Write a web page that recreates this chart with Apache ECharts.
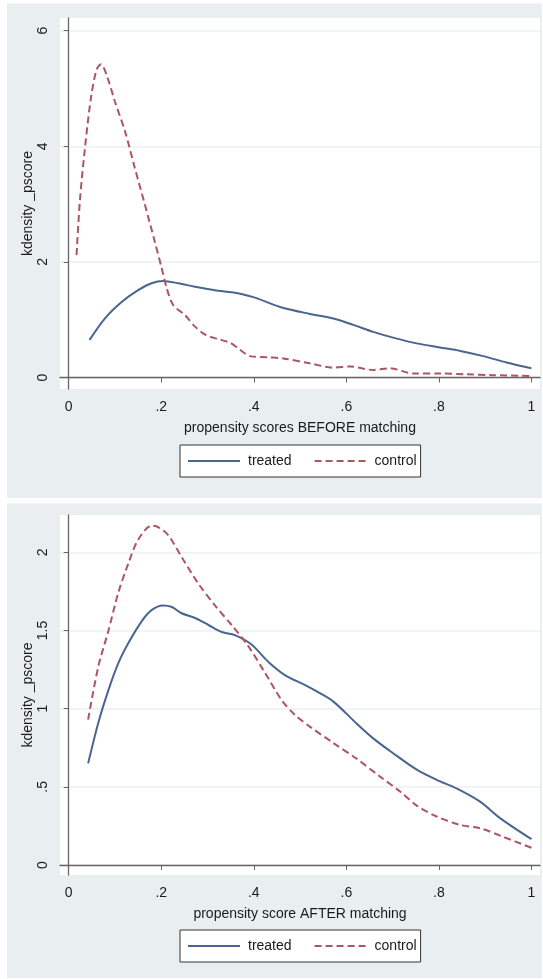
<!DOCTYPE html>
<html>
<head>
<meta charset="utf-8">
<script src="https://cdn.jsdelivr.net/npm/echarts@6/dist/echarts.min.js"></script>
<style>
  html, body { margin: 0; padding: 0; background: #fff; }
  #chart { width: 543px; height: 979px; }
</style>
</head>
<body>
<div id="chart"></div>
<script>
// kernel density of the propensity score, [score, density]
var beforeTreated = [[0.045,0.65],[0.078,1.02],[0.115,1.31],[0.15,1.51],[0.179,1.63],[0.204,1.67],[0.237,1.63],[0.273,1.57],[0.316,1.51],[0.356,1.47],[0.399,1.39],[0.457,1.22],[0.521,1.1],[0.572,1.02],[0.615,0.91],[0.658,0.79],[0.701,0.69],[0.752,0.59],[0.802,0.52],[0.846,0.46],[0.896,0.37],[0.946,0.26],[1.0,0.16]];
var beforeControl = [[0.017,2.12],[0.024,3.04],[0.035,3.96],[0.048,4.83],[0.06,5.32],[0.07,5.42],[0.082,5.23],[0.1,4.77],[0.122,4.25],[0.143,3.62],[0.165,2.98],[0.186,2.35],[0.201,1.89],[0.212,1.54],[0.226,1.25],[0.251,1.08],[0.273,0.88],[0.295,0.74],[0.32,0.67],[0.349,0.6],[0.37,0.48],[0.392,0.37],[0.43,0.35],[0.464,0.33],[0.521,0.245],[0.572,0.17],[0.608,0.19],[0.658,0.13],[0.694,0.16],[0.745,0.07],[0.802,0.07],[0.86,0.055],[0.917,0.04],[1.0,0.025]];
var afterTreated = [[0.042,0.65],[0.064,0.91],[0.086,1.12],[0.107,1.29],[0.129,1.42],[0.158,1.56],[0.179,1.63],[0.204,1.66],[0.223,1.65],[0.244,1.61],[0.273,1.58],[0.302,1.535],[0.331,1.49],[0.359,1.47],[0.395,1.41],[0.431,1.3],[0.467,1.215],[0.511,1.15],[0.536,1.11],[0.572,1.045],[0.622,0.905],[0.658,0.81],[0.701,0.715],[0.752,0.61],[0.795,0.545],[0.838,0.49],[0.889,0.405],[0.932,0.3],[1.0,0.165]];
var afterControl = [[0.042,0.93],[0.064,1.27],[0.086,1.5],[0.107,1.74],[0.129,1.93],[0.15,2.08],[0.179,2.17],[0.194,2.16],[0.215,2.11],[0.244,1.97],[0.28,1.8],[0.316,1.66],[0.352,1.535],[0.388,1.4],[0.424,1.23],[0.46,1.055],[0.489,0.96],[0.521,0.885],[0.572,0.78],[0.622,0.68],[0.673,0.565],[0.716,0.47],[0.752,0.38],[0.795,0.31],[0.846,0.256],[0.889,0.235],[0.939,0.18],[1.0,0.11]];

var xTicks = [0, 0.2, 0.4, 0.6, 0.8, 1];
var yTicksBefore = [0, 2, 4, 6];
var yTicksAfter = [0, 0.5, 1, 1.5, 2];
var xTitles = ['propensity scores BEFORE matching', 'propensity score AFTER matching'];
var yTitle = 'kdensity _pscore';
var groups = ['treated', 'control'];

var navy = '#4a6590';
var maroon = '#ad5560';
var font = 'Liberation Sans, Arial, sans-serif';

// stata style labels: .2 instead of 0.2
var stataNum = function (v) {
  var s = String(Math.round(v * 10) / 10);
  return s.indexOf('0.') === 0 ? s.slice(1) : s;
};

var myChart = echarts.init(document.getElementById('chart'), null, { renderer: 'canvas' });

var xAxisFor = function (idx) {
  return {
    type: 'value', gridIndex: idx,
    min: -0.0188, max: 1.0184,
    name: xTitles[idx], nameLocation: 'middle', nameGap: 32,
    nameTextStyle: { fontFamily: font, fontSize: 14, color: '#1a1a1a' },
    axisLine: { lineStyle: { color: '#666', width: 1.3 } },
    axisTick: { show: true, length: 5, customValues: xTicks, lineStyle: { color: '#666' } },
    axisLabel: { customValues: xTicks, formatter: stataNum, margin: 11, fontFamily: font, fontSize: 14, color: '#1a1a1a' },
    splitLine: { show: false }
  };
};

var yAxisFor = function (idx, min, max, ticks) {
  return {
    type: 'value', gridIndex: idx,
    min: min, max: max,
    name: yTitle, nameLocation: 'middle', nameGap: 25, nameMoveOverlap: false,
    nameTextStyle: { fontFamily: font, fontSize: 14, color: '#1a1a1a' },
    axisLine: { show: true, lineStyle: { color: '#666', width: 1.3 } },
    axisTick: { show: true, length: 5, customValues: ticks, lineStyle: { color: '#666' } },
    axisLabel: { customValues: ticks, formatter: stataNum, rotate: 90, margin: 10, fontFamily: font, fontSize: 14, color: '#1a1a1a' },
    splitLine: { show: true, lineStyle: { color: '#edf1f2', width: 1.5 } }
  };
};

var lineSeries = function (name, idx, data, color, dashed) {
  return {
    name: name, type: 'line', xAxisIndex: idx, yAxisIndex: idx,
    data: data, smooth: 0.3, symbol: 'none',
    lineStyle: { color: color, width: 2, type: dashed ? [7, 4] : 'solid' },
    itemStyle: { color: color }
  };
};

var legendFor = function (top) {
  return {
    data: groups, left: 180, top: top,
    orient: 'horizontal',
    itemWidth: 52, itemHeight: 14, itemGap: 22,
    padding: [9, 4, 9, 7],
    borderColor: '#333', borderWidth: 1, backgroundColor: '#fff',
    itemStyle: { color: 'rgba(0,0,0,0)', borderWidth: 0, opacity: 0 },
    textStyle: { fontFamily: font, fontSize: 14, color: '#1a1a1a', padding: [0, 0, 0, 3] }
  };
};

var option = {
  animation: false,
  backgroundColor: '#fff',
  graphic: [
    { type: 'rect', z: -10, shape: { x: 7, y: 3.5, width: 535, height: 494.5 }, style: { fill: '#e9eff1' } },
    { type: 'rect', z: -10, shape: { x: 7, y: 503.5, width: 535, height: 474.5 }, style: { fill: '#e9eff1' } }
  ],
  grid: [
    { left: 60, top: 18, width: 480, height: 371, show: true, backgroundColor: '#fff', borderWidth: 0 },
    { left: 60, top: 515, width: 480, height: 360, show: true, backgroundColor: '#fff', borderWidth: 0 }
  ],
  xAxis: [xAxisFor(0), xAxisFor(1)],
  yAxis: [
    yAxisFor(0, -0.199, 6.219, yTicksBefore),
    yAxisFor(1, -0.064, 2.2386, yTicksAfter)
  ],
  legend: [legendFor(445), legendFor(930)],
  series: [
    lineSeries('treated', 0, beforeTreated, navy, false),
    lineSeries('control', 0, beforeControl, maroon, true),
    lineSeries('treated', 1, afterTreated, navy, false),
    lineSeries('control', 1, afterControl, maroon, true)
  ]
};

myChart.setOption(option);
window.addEventListener('resize', function () {
  myChart.resize();
});
</script>
</body>
</html>
